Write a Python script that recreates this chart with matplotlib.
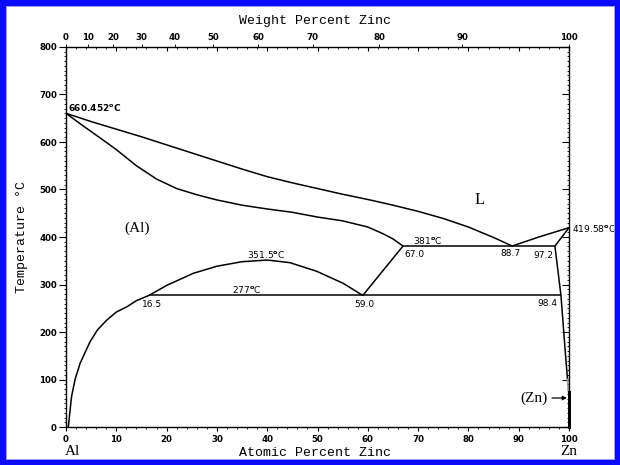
"""Al-Zn phase diagram (atomic % Zn vs temperature)."""

import matplotlib
matplotlib.use("Agg")
import matplotlib.pyplot as plt
import matplotlib.ticker as ticker
from matplotlib.patches import Rectangle

# ── data ────────────────────────────────────────────────────

# liquidus, Al side down to the eutectic
LIQ_AL_X = [0, 5, 10, 15, 20, 25, 30, 35, 40, 45, 50, 55, 60, 65, 70, 75, 80, 85, 88.7]
LIQ_AL_T = [660.452, 643, 627, 611, 594, 577, 560, 543, 527, 514, 502, 490, 479, 467, 454, 439, 421, 399, 381]

# solidus of (Al)
SOL_AL_X = [0, 3, 7, 10, 14, 18, 22, 26, 30, 35, 40, 45, 50, 55, 60, 63, 65, 67.0]
SOL_AL_T = [660.452, 637, 607, 584, 550, 522, 502, 489, 478, 467, 459, 452, 442, 434, 421, 407, 396, 381]

# solvus of (Al) at low Zn
SOLV_AL_X = [0.46, 1.1, 1.8, 2.8, 4.8, 6.3, 8.1, 10, 12.1, 14, 16.5]
SOLV_AL_T = [0, 64, 100, 134, 180, 205, 225, 242, 253, 266, 277]

# miscibility gap in (Al)
GAP_X = [16.5, 20, 25.3, 30, 35, 40, 44.5, 49.8, 55.1, 59.0]
GAP_T = [277, 298, 323.5, 338.5, 348, 351.5, 346, 328, 302.5, 277]

# (Al) boundary between eutectoid and eutectic
AL_EDGE_X = [59.0, 67.0]
AL_EDGE_T = [277, 381]

# liquidus, Zn side
LIQ_ZN_X = [88.7, 94, 100]
LIQ_ZN_T = [381, 400, 419.58]

# solidus and solvus of (Zn)
SOL_ZN_X = [97.2, 100]
SOL_ZN_T = [381, 419.58]
SOLV_ZN_X = [97.2, 98.4, 99.1, 99.7]
SOLV_ZN_T = [381, 277, 180, 100]
SOLV_ZN_GRAY_X = [99.7, 99.9]
SOLV_ZN_GRAY_T = [100, 74]
ZN_PURE_T = [74, 0]

# invariant lines
EUTECTIC_X = [67.0, 97.2]
EUTECTIC_T = 381
EUTECTOID_X = [16.5, 98.4]
EUTECTOID_T = 277

AT_TICKS = [0, 10, 20, 30, 40, 50, 60, 70, 80, 90, 100]
WT_TICKS = [0, 10, 20, 30, 40, 50, 60, 70, 80, 90, 100]
T_TICKS = [0, 100, 200, 300, 400, 500, 600, 700, 800]

M_AL = 26.98
M_ZN = 65.38

MONO = "Liberation Mono"
SERIF = "Liberation Serif"
TICK_FS = 6.2
LBL_FS = 6.5


def wt_to_at(w):
    """weight % Zn -> atomic % Zn."""
    w = max(min(w, 100.0), 0.0)
    zn = w / M_ZN
    al = (100.0 - w) / M_AL
    return 100.0 * zn / (zn + al) if zn + al else 0.0


def deg(s):
    return s + r"$^{\mathbf{o}}$C"


# ── figure ──────────────────────────────────────────────────

fig = plt.figure(figsize=(6.2, 4.65), dpi=100)
ax = fig.add_axes([66 / 620, 1 - 427 / 465, (569 - 66) / 620, (427 - 47) / 465])

kw = dict(color="black", lw=1.1, solid_capstyle="butt")
ax.plot(LIQ_AL_X, LIQ_AL_T, **kw)
ax.plot(SOL_AL_X, SOL_AL_T, **kw)
ax.plot(SOLV_AL_X, SOLV_AL_T, **kw)
ax.plot(GAP_X, GAP_T, **kw)
ax.plot(AL_EDGE_X, AL_EDGE_T, **kw)
ax.plot(LIQ_ZN_X, LIQ_ZN_T, **kw)
ax.plot(SOL_ZN_X, SOL_ZN_T, **kw)
ax.plot(SOLV_ZN_X, SOLV_ZN_T, **kw)
ax.plot(SOLV_ZN_GRAY_X, SOLV_ZN_GRAY_T, color="#999999", lw=1.3)
ax.plot([100, 100], ZN_PURE_T, color="black", lw=2.2, clip_on=False)
ax.hlines(EUTECTIC_T, *EUTECTIC_X, color="black", lw=1.1)
ax.hlines(EUTECTOID_T, *EUTECTOID_X, color="black", lw=1.1)

ax.set_xlim(0, 100)
ax.set_ylim(0, 800)

# axes ticks
ax.set_xticks(AT_TICKS)
ax.set_yticks(T_TICKS)
ax.xaxis.set_minor_locator(ticker.MultipleLocator(2))
ax.yaxis.set_minor_locator(ticker.MultipleLocator(10))
ax.tick_params(axis="x", which="major", direction="out", length=3, width=0.8,
               labelsize=TICK_FS, pad=3, top=True)
ax.tick_params(axis="x", which="minor", direction="out", length=1.2, width=0.6, top=True)
ax.tick_params(axis="y", which="major", direction="out", length=5, width=0.8,
               labelsize=TICK_FS, pad=1.5)
ax.tick_params(axis="y", which="minor", direction="out", length=1.2, width=0.6)
ax.tick_params(axis="x", which="both", top=True)
for t in ax.xaxis.get_major_ticks() + ax.xaxis.get_minor_ticks():
    t.tick2line.set_marker(3)  # top ticks point down into the plot
ax.tick_params(axis="y", which="both", right=True)
for t in ax.yaxis.get_major_ticks():
    t.tick2line.set_marker(0)
    t.tick2line.set_markersize(5)
for t in ax.yaxis.get_minor_ticks():
    t.tick2line.set_marker(0)
    t.tick2line.set_markersize(1.5)
for s in ax.spines.values():
    s.set_linewidth(1.0)
for lab in ax.get_xticklabels() + ax.get_yticklabels():
    lab.set_fontweight("bold")

# weight percent on top
sec = ax.secondary_xaxis("top", functions=(
    lambda x: x, lambda x: x))
sec.set_xticks([wt_to_at(w) for w in WT_TICKS])
sec.set_xticklabels([str(w) for w in WT_TICKS], fontweight="bold")
sec.tick_params(direction="out", length=2, width=0.6, labelsize=TICK_FS, pad=1.5)
sec.spines["top"].set_visible(False)

# labels on the diagram
lbl = dict(fontsize=LBL_FS, color="black")
ax.text(0.4, 672, deg("660.452"), ha="left", va="center", fontweight="bold", **lbl)
ax.text(100.6, 418, deg("419.58"), ha="left", va="center", clip_on=False, **lbl)
ax.text(72, 392, deg("381"), ha="center", va="center", **lbl)
ax.text(67.2, 364, "67.0", ha="left", va="center", **lbl)
ax.text(88.4, 365, "88.7", ha="center", va="center", **lbl)
ax.text(96.8, 362, "97.2", ha="right", va="center", **lbl)
ax.text(39.8, 364, deg("351.5"), ha="center", va="center", **lbl)
ax.text(36, 290, deg("277"), ha="center", va="center", **lbl)
ax.text(17.1, 258, "16.5", ha="center", va="center", **lbl)
ax.text(59.4, 258, "59.0", ha="center", va="center", **lbl)
ax.text(97.6, 259, "98.4", ha="right", va="center", **lbl)

ax.text(82.3, 478, "L", ha="center", va="center", fontsize=12, family=SERIF)
ax.text(14.1, 419, "(Al)", ha="center", va="center", fontsize=11, family=SERIF)
ax.annotate("(Zn)", xy=(99.6, 61), xytext=(95.8, 61), ha="right", va="center",
            fontsize=11, family=SERIF,
            arrowprops=dict(arrowstyle="-|>", color="black", lw=0.9,
                            mutation_scale=6, shrinkA=1, shrinkB=0))

# axis titles
fig.text(315 / 620, 1 - 453 / 465, "Atomic Percent Zinc", ha="center", va="center",
         fontsize=9.5, family=MONO)
fig.text(315 / 620, 1 - 21 / 465, "Weight Percent Zinc", ha="center", va="center",
         fontsize=9.5, family=MONO)
fig.text(22 / 620, 1 - 237 / 465, "Temperature °C", ha="center", va="center",
         rotation=90, fontsize=9.5, family=MONO)
fig.text(72 / 620, 1 - 451 / 465, "Al", ha="center", va="center", fontsize=11, family=SERIF)
fig.text(569 / 620, 1 - 451 / 465, "Zn", ha="center", va="center", fontsize=11, family=SERIF)

# blue frame
fig.patches.append(Rectangle((0, 0), 1, 1, transform=fig.transFigure, fill=False,
                             edgecolor="#0a0aff", lw=8, zorder=10))
fig.patches.append(Rectangle((6 / 620, 6 / 465), 1 - 12 / 620, 1 - 12 / 465,
                             transform=fig.transFigure, fill=False,
                             edgecolor="#9a9aff", lw=0.7, zorder=10))

fig.savefig("out.png", dpi=100, facecolor="white")
